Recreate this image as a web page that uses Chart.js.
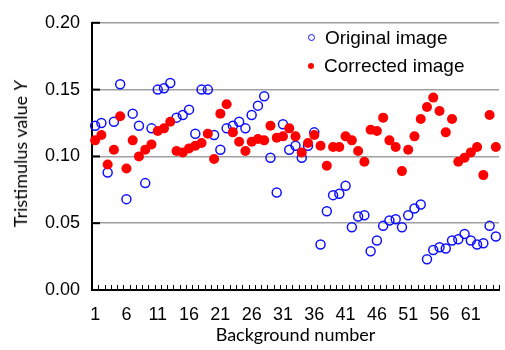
<!DOCTYPE html>
<html>
<head>
<meta charset="utf-8">
<script src="https://cdn.jsdelivr.net/npm/chart.js@4"></script>
<style>
  body { margin: 0; background: #fff; }
  .wrap { position: relative; width: 505px; height: 350px; }
  .ytitle {
    position: absolute; left: 20px; top: 154px;
    transform: translate(-50%, -50%) rotate(-90deg);
    white-space: nowrap; font: 18px Lato, sans-serif; color: #000;
  }
  .legend { position: absolute; left: 308px; top: 26px; font: 19px "Liberation Sans", Arial, sans-serif; }
  .legend div { height: 28px; line-height: 24px; white-space: nowrap; }
  .legend span { display: inline-block; width: 6px; height: 6px; border-radius: 50%; margin-right: 10px; vertical-align: 3px; }
</style>
</head>
<body>
<div class="wrap">
  <canvas id="myChart" width="505" height="350"></canvas>
  <div class="ytitle">Tristimulus value <i>Y</i></div>
  <div class="legend" id="legend"></div>
</div>
<script>
const backgrounds = Array.from({ length: 65 }, (_, i) => String(i + 1));

const seriesNames = ["Original image", "Corrected image"];

const original = [
  0.123, 0.125, 0.088, 0.126, 0.154, 0.068, 0.132, 0.123, 0.080, 0.121,
  0.150, 0.151, 0.155, 0.129, 0.131, 0.135, 0.117, 0.150, 0.150, 0.116,
  0.105, 0.121, 0.123, 0.126, 0.121, 0.131, 0.138, 0.145, 0.099, 0.073,
  0.124, 0.105, 0.108, 0.099, 0.108, 0.118, 0.034, 0.059, 0.071, 0.072,
  0.078, 0.047, 0.055, 0.056, 0.029, 0.037, 0.048, 0.052, 0.053, 0.047,
  0.056, 0.061, 0.064, 0.023, 0.030, 0.032, 0.031, 0.037, 0.038, 0.042,
  0.037, 0.034, 0.035, 0.048, 0.040
];

const corrected = [
  0.112, 0.116, 0.094, 0.105, 0.130, 0.091, 0.112, 0.100, 0.105, 0.109,
  0.119, 0.121, 0.126, 0.104, 0.103, 0.106, 0.108, 0.110, 0.117, 0.098,
  0.132, 0.139, 0.118, 0.111, 0.104, 0.111, 0.113, 0.112, 0.123, 0.114,
  0.115, 0.121, 0.115, 0.103, 0.110, 0.116, 0.108, 0.093, 0.107, 0.107,
  0.115, 0.112, 0.104, 0.096, 0.120, 0.119, 0.129, 0.112, 0.107, 0.089,
  0.105, 0.115, 0.128, 0.137, 0.144, 0.134, 0.118, 0.128, 0.096, 0.099,
  0.103, 0.107, 0.086, 0.131, 0.107
];

const yTicks = [0, 0.05, 0.1, 0.15, 0.2];

const blue = "#1010ff";
const red = "#ff0000";

// short tick marks pointing into the plot, like the original
const innerTicks = {
  id: "innerTicks",
  afterDatasetsDraw(chart) {
    const { ctx, chartArea, scales } = chart;
    const x = scales.x;
    const y = scales.y;
    const step = x.getPixelForValue(1) - x.getPixelForValue(0);
    ctx.save();
    ctx.strokeStyle = "#000";
    ctx.lineWidth = 1;
    for (let i = 0; i <= backgrounds.length; i++) {
      const px = Math.round(x.getPixelForValue(i) - step / 2) + 0.5;
      ctx.beginPath();
      ctx.moveTo(px, chartArea.bottom);
      ctx.lineTo(px, chartArea.bottom - 5);
      ctx.stroke();
    }
    ctx.lineWidth = 2;
    yTicks.forEach((v) => {
      const py = y.getPixelForValue(v);
      ctx.beginPath();
      ctx.moveTo(chartArea.left, py);
      ctx.lineTo(chartArea.left + 8, py);
      ctx.stroke();
    });
    ctx.restore();
  },
};

const ctx = document.getElementById("myChart").getContext("2d");
const myChart = new Chart(ctx, {
  type: "line",
  data: {
    labels: backgrounds,
    datasets: [
      {
        label: seriesNames[0],
        data: original,
        showLine: false,
        pointRadius: 4.5,
        pointHoverRadius: 4.5,
        pointBorderWidth: 1.5,
        pointBorderColor: blue,
        pointBackgroundColor: "rgba(0,0,0,0)",
        order: 1,
      },
      {
        label: seriesNames[1],
        data: corrected,
        showLine: false,
        pointRadius: 5,
        pointHoverRadius: 5,
        pointBorderWidth: 0,
        pointBorderColor: red,
        pointBackgroundColor: red,
        order: 0,
      },
    ],
  },
  options: {
    responsive: false,
    animation: false,
    layout: { padding: { top: 18, right: 5, bottom: 0, left: 0 } },
    plugins: { legend: { display: false }, tooltip: { enabled: false } },
    scales: {
      x: {
        offset: true,
        grid: { display: false, offset: true },
        border: { color: "#000", width: 2 },
        ticks: {
          autoSkip: false,
          maxRotation: 0,
          padding: 6,
          color: "#000",
          font: { family: "'Liberation Sans', Arial", size: 18 },
          callback: (val, i) => (i % 5 === 0 ? backgrounds[i] : ""),
        },
        title: {
          display: true,
          text: "Background number",
          color: "#000",
          font: { family: "Lato", size: 18 },
          padding: { top: 2, bottom: 4 },
        },
        afterFit: (scale) => { scale.height = 60; },
      },
      y: {
        min: 0,
        max: 0.2,
        grid: { color: "#a0a0a0", lineWidth: 1.5, drawTicks: false },
        border: { color: "#000", width: 2 },
        ticks: {
          stepSize: 0.05,
          padding: 12,
          color: "#000",
          font: { family: "'Liberation Sans', Arial", size: 18 },
          callback: (v) => v.toFixed(2),
        },
        afterFit: (scale) => { scale.width = 92; },
      },
    },
  },
  plugins: [innerTicks],
});

// legend drawn as html over the plot
const legendEl = document.getElementById("legend");
myChart.data.datasets.forEach((ds) => {
  const row = document.createElement("div");
  const mark = document.createElement("span");
  if (ds.pointBackgroundColor === red) {
    mark.style.background = red;
  } else {
    mark.style.border = "1.2px solid " + blue;
    mark.style.width = "5px";
    mark.style.height = "5px";
  }
  row.appendChild(mark);
  row.appendChild(document.createTextNode(ds.label));
  legendEl.appendChild(row);
});
</script>
</body>
</html>
